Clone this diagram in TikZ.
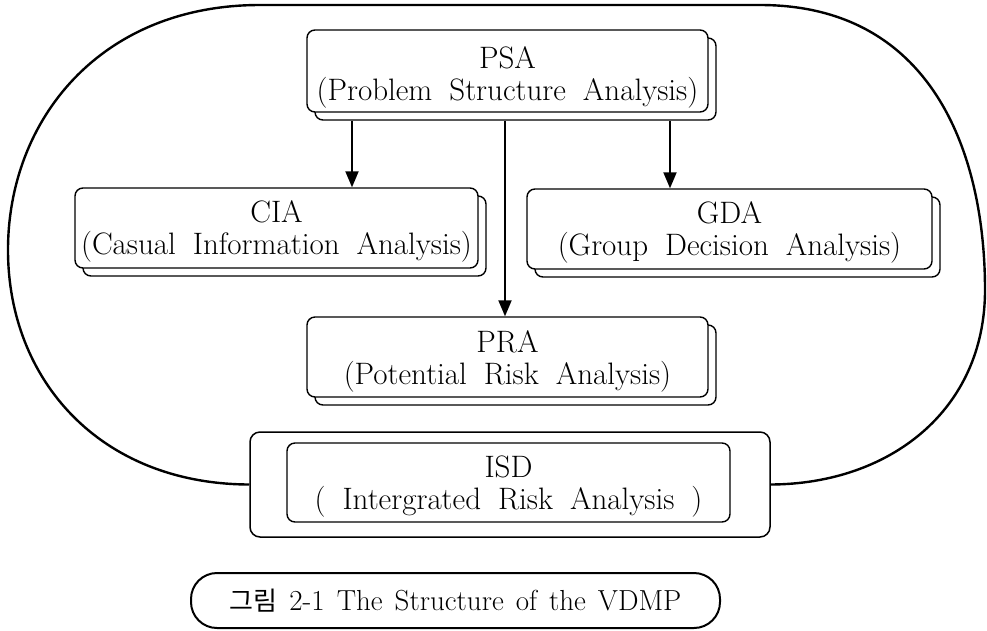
\documentclass[tikz,border=0pt]{standalone}
\usepackage{fontspec}
\newfontfamily\kr{Noto Sans CJK KR}
\usetikzlibrary{arrows.meta}
\newcommand\lblfont{\fontsize{31}{32}\selectfont\addfontfeature{FakeBold=0.5}\spaceskip=17pt plus 2pt minus 2pt\relax}
\newcommand\capfont{\fontsize{29}{32}\selectfont\addfontfeature{FakeBold=0.5}\spaceskip=12pt plus 2pt minus 2pt\relax}
\begin{document}
\begin{tikzpicture}[x=1pt,y=-1pt,
  box/.style={draw, line width=1.4pt, rounded corners=8pt, fill=white, inner sep=0pt},
  txt/.style={align=center, inner sep=0pt, font=\lblfont},
  oval/.style={draw, line width=2.4pt},
  arr/.style={draw, line width=2pt, -{Triangle[length=16pt,width=13pt]}},
  capbox/.style={draw, line width=2pt, rounded corners=26pt, inner sep=0pt, font=\capfont}]
\useasboundingbox (0,0) rectangle (987,630);

% ISD boxes
\node[box, line width=1.5pt, rounded corners=10pt, minimum width=520pt, minimum height=105pt] (isdo) at (510,484.5) {};
\node[box, minimum width=443pt, minimum height=79pt] (isd) at (508.5,482.5) {};
\node[txt] (isdt) at ([yshift=-4pt]isd.center) {ISD\\( Intergrated Risk Analysis )};

% big enclosing outline
\draw[oval] (isdo.west) .. controls (100,484) and (8,380) .. (8,250)
  .. controls (8,120) and (100,5) .. (260,5) -- (760,5)
  .. controls (930,5) and (985,150) .. (985,290)
  .. controls (985,410) and (890,484) .. (isdo.east);

% shadows
\node[box, minimum width=401pt, minimum height=82pt] (psas) at (515.5,79) {};
\node[box, minimum width=403pt, minimum height=80pt] (cias) at (284.5,236) {};
\node[box, minimum width=405pt, minimum height=80pt] (gdas) at (737.5,237) {};
\node[box, minimum width=401pt, minimum height=80pt] (pras) at (515.5,365) {};

% main boxes
\node[box, minimum width=401pt, minimum height=82pt] (psa) at (507.5,71) {};
\node[box, minimum width=403pt, minimum height=80pt] (cia) at (276.5,228) {};
\node[box, minimum width=405pt, minimum height=80pt] (gda) at (729.5,229) {};
\node[box, minimum width=401pt, minimum height=80pt] (pra) at (507.5,357) {};
\node[txt] (psat) at ([yshift=-6pt]psa.center) {PSA\\(Problem Structure Analysis)};
\node[txt] (ciat) at ([yshift=-3pt]cia.center) {CIA\\(Casual Information Analysis)};
\node[txt] (gdat) at ([yshift=-3pt]gda.center) {GDA\\(Group Decision Analysis)};
\node[txt] (prat) at ([yshift=-4pt]pra.center) {PRA\\(Potential Risk Analysis)};

% arrows
\coordinate (a1) at (352,0);
\coordinate (a2) at (505,0);
\coordinate (a3) at (670,0);
\draw[arr] (psas.south -| a1) -- (cia.north -| a1);
\draw[arr] (psas.south -| a2) -- (pra.north -| a2);
\draw[arr] (psas.south -| a3) -- (gda.north -| a3);

% caption
\node[capbox, minimum width=529pt, minimum height=55pt] (cap) at (455.5,600.5) {{\kr\fontsize{26}{30}\selectfont 그림} 2-1 The Structure of the VDMP};
\end{tikzpicture}
\end{document}
